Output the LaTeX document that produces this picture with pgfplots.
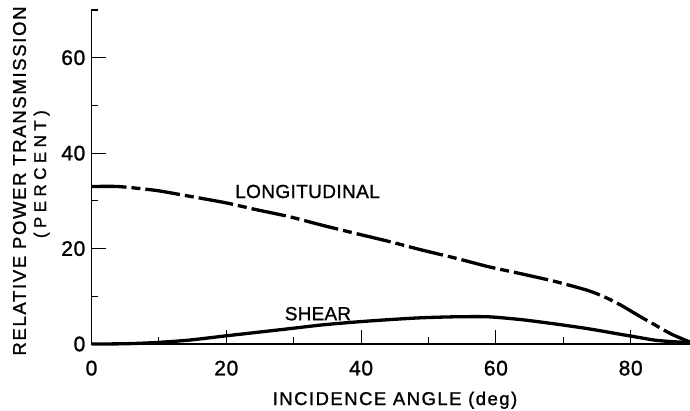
\documentclass[border=0pt]{standalone}
\usepackage{fontspec}
\setmainfont{Liberation Sans}[FakeBold=1.2]
\usepackage{pgfplots}
\pgfplotsset{compat=1.18}
\pgfplotstableread{
x y
0 33.0
4 33.0
9.5 32.2
14.4 31.0
19.9 29.6
24.3 28.2
29.3 26.7
34.2 24.9
39.1 23.2
44.1 21.5
49 19.7
54 18.0
58.9 16.2
63.8 14.7
68.8 13.1
73.7 11.2
76.2 9.8
78.6 8.1
81.1 6.0
83.6 4.0
86 2.1
88.8 0.4
}\longitudinal
\pgfplotstableread{
x y
0 0
5 0.05
9.5 0.3
14.4 0.8
19.9 1.7
24.3 2.4
29.3 3.2
34.2 4.0
39.1 4.6
44.1 5.1
49 5.5
54 5.7
58.9 5.7
63.8 5.1
68.8 4.2
73.7 3.2
78.6 2.0
81.1 1.4
83.6 0.8
86 0.5
88.8 0.3
}\shear
\begin{document}
\fontsize{18}{21}\selectfont
\begin{tikzpicture}
\begin{axis}[
  scale only axis, width=598.5pt, height=334pt,
  xmin=0, xmax=88.8, ymin=0, ymax=70,
  axis lines=left, axis line style={-, line width=1.4pt},
  xtick={0,20,40,60,80}, minor xtick={10,30,50,70},
  ytick={0,20,40,60}, minor ytick={10,30,50,70},
  tick align=inside, major tick length=14pt, minor tick length=7pt,
  every tick/.style={black, line width=1.1pt},
  tick label style={font=\fontsize{21}{24}\selectfont\addfontfeatures{LetterSpace=3}},
  /pgf/number format/assume math mode=true,
  xticklabel style={yshift=-10.5pt},
  clip=false,
]
\coordinate (O) at (rel axis cs:0,0);
\addplot[black, line width=3.3pt, line cap=butt, smooth, tension=0.4,
  dash pattern=on 35pt off 5pt on 9pt off 5pt] table {\longitudinal};
\addplot[black, line width=3.3pt, smooth, tension=0.4] table {\shear};
\node[font=\fontsize{19}{22}\selectfont\addfontfeatures{LetterSpace=2}] at (axis cs:32.05,31.96) {LONGITUDINAL};
\node[font=\fontsize{19}{22}\selectfont\addfontfeatures{LetterSpace=1}] at (axis cs:33.6,6.35) {SHEAR};
\node[anchor=base, font=\fontsize{18.5}{22}\selectfont\addfontfeatures{LetterSpace=8}] at (axis cs:45.03,-12.79) {INCIDENCE ANGLE (deg)};
\node[rotate=90, font=\fontsize{18.5}{22}\selectfont\addfontfeatures{LetterSpace=9}] at (axis cs:-10.68,34.16) {RELATIVE POWER TRANSMISSION};
\node[rotate=90, anchor=base, font=\fontsize{17}{20}\selectfont\addfontfeatures{LetterSpace=26}] at (axis cs:-6.75,35.6) {(PERCENT)};
\end{axis}
\pgfresetboundingbox
\path (O) ++(-91.5pt,-67pt) rectangle ++(690pt,411pt);
\end{tikzpicture}
\end{document}
